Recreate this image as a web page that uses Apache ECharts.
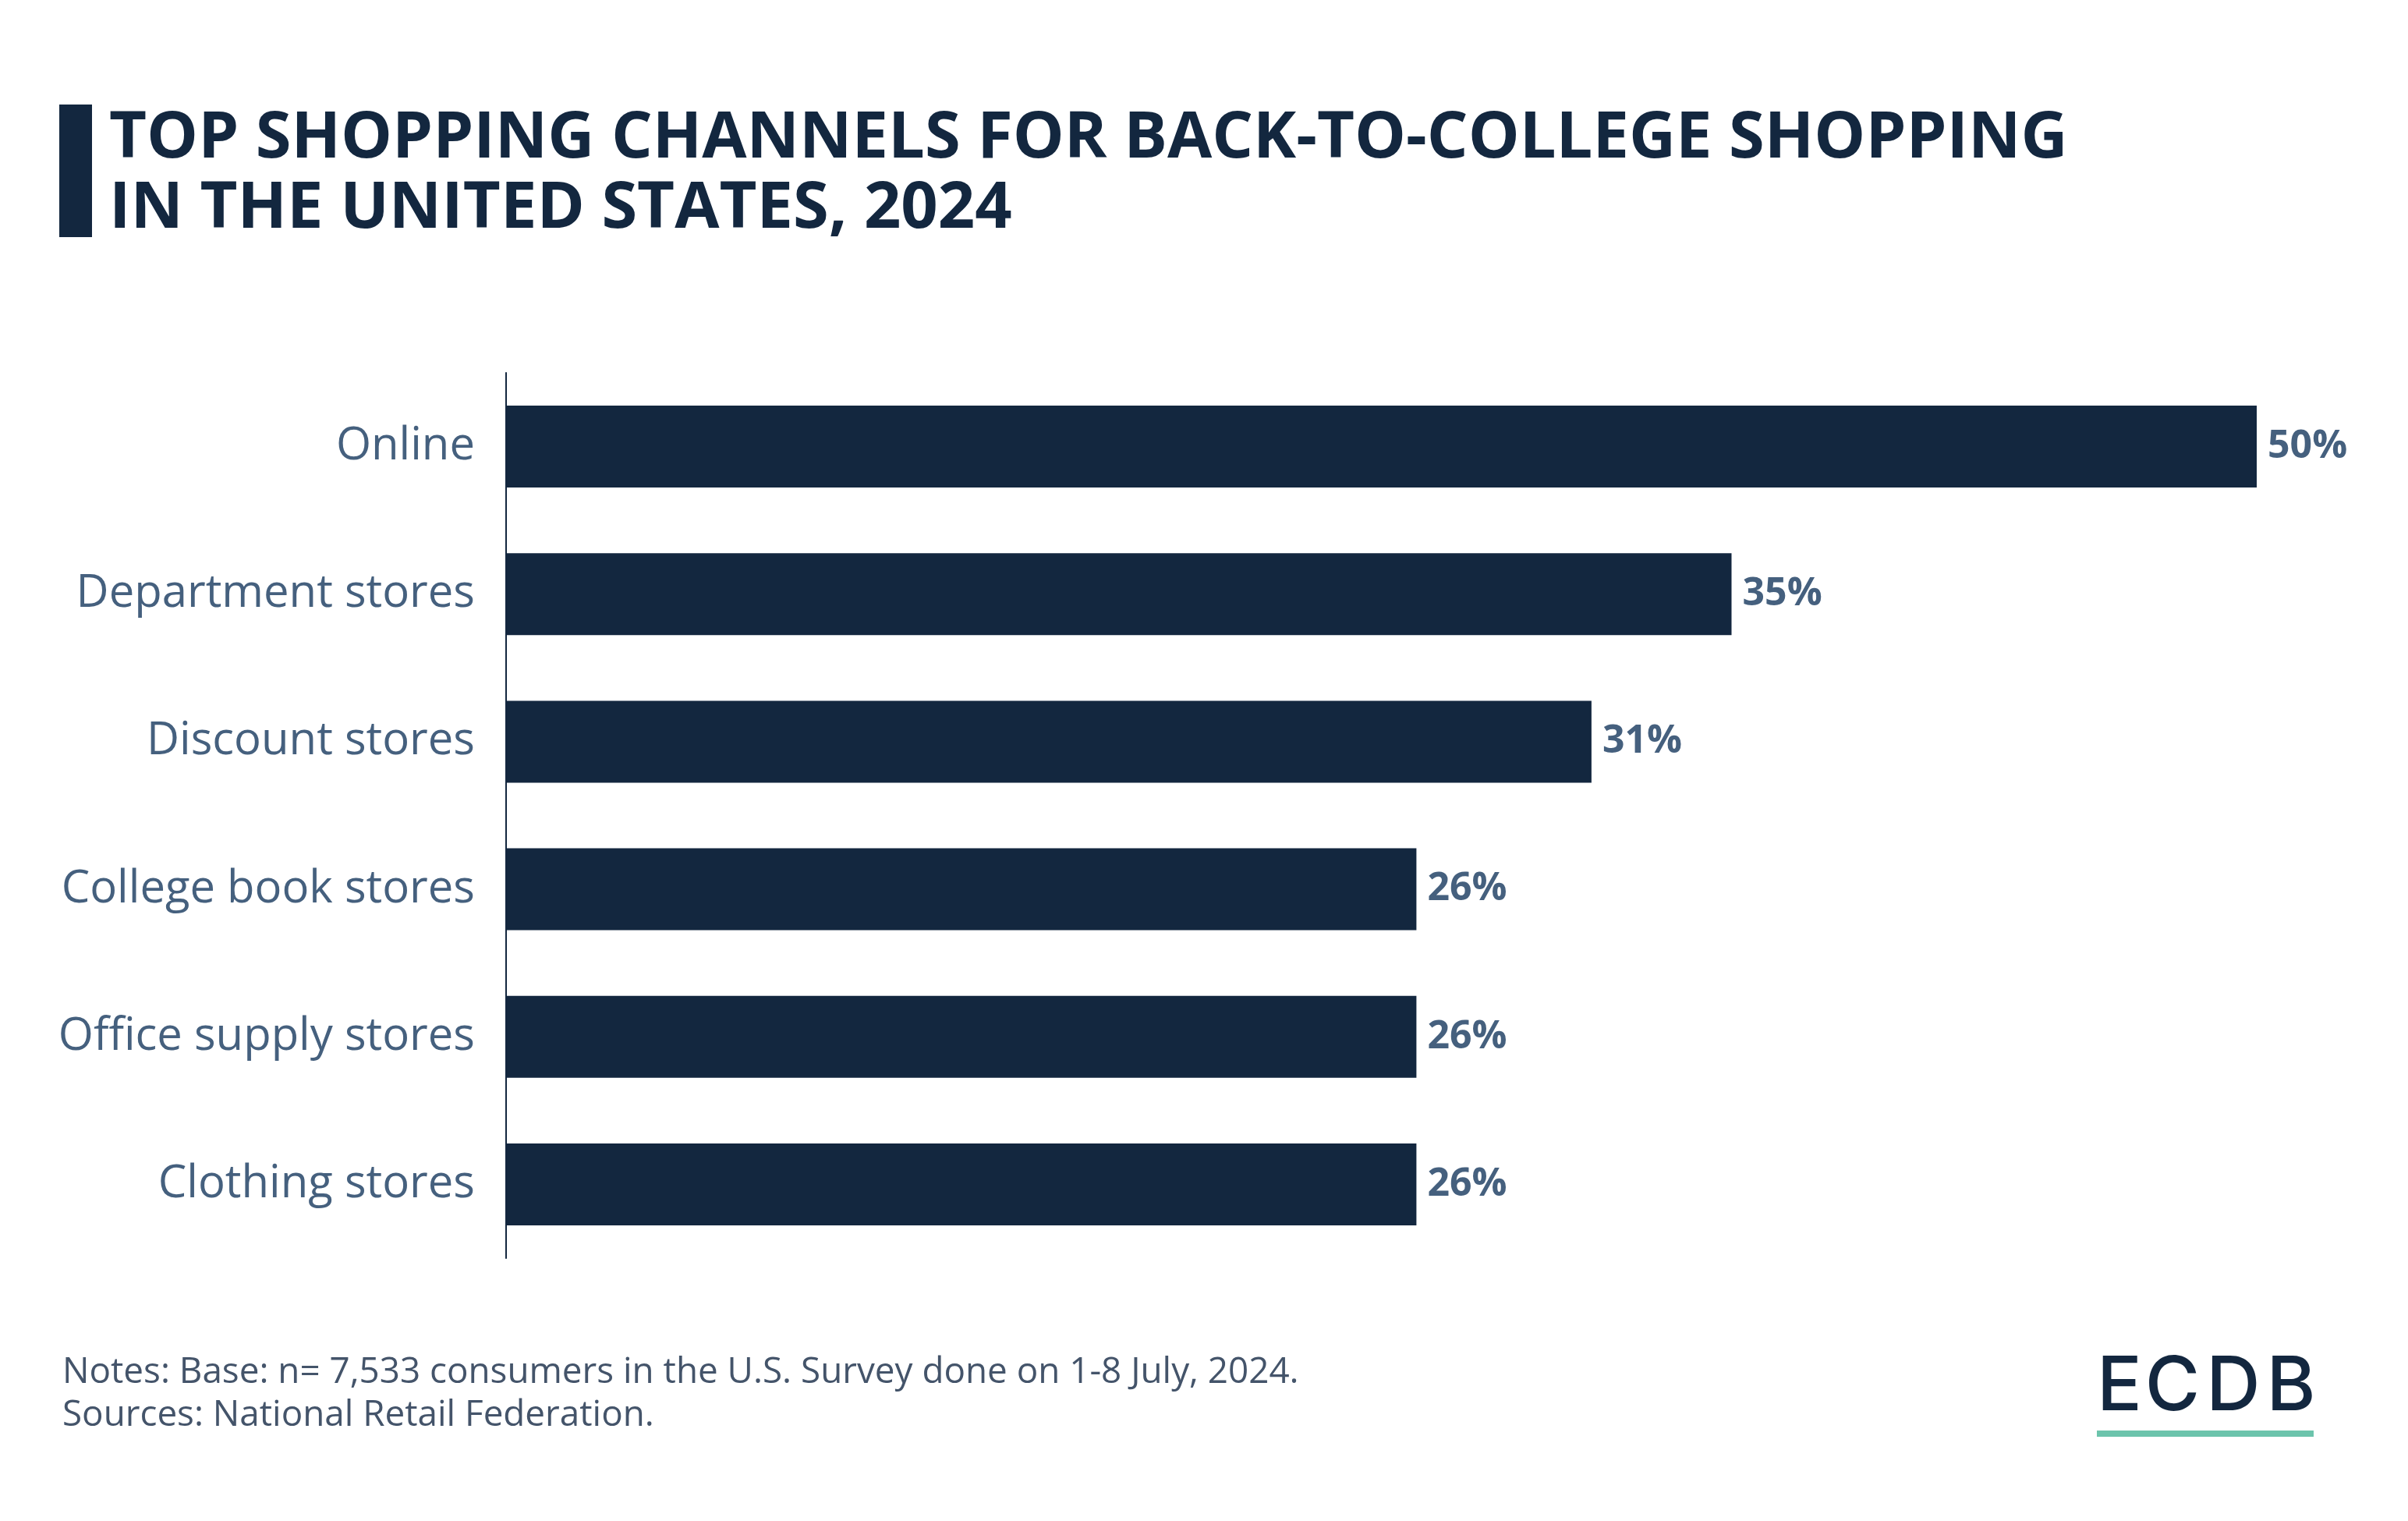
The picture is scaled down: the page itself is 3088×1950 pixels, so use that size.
<!DOCTYPE html>
<html>
<head>
<meta charset="utf-8">
<script src="https://cdn.jsdelivr.net/npm/echarts@6/dist/echarts.min.js"></script>
<style>
html,body{margin:0;padding:0;background:#fff;}
#chart{width:3088px;height:1950px;}
</style>
</head>
<body>
<div id="chart"></div>
<script>
const categories = ['Online', 'Department stores', 'Discount stores', 'College book stores', 'Office supply stores', 'Clothing stores'];
const shares = [50, 35, 31, 26, 26, 26];
const titleLines = ['TOP SHOPPING CHANNELS FOR BACK-TO-COLLEGE SHOPPING', 'IN THE UNITED STATES, 2024'];
const noteLines = ['Notes: Base: n= 7,533 consumers in the U.S. Survey done on 1-8 July, 2024.', 'Sources: National Retail Federation.'];

const navy = '#13273f';
const slate = '#45607e';

const logoLetters = [['E', 2718], ['C', 2786], ['D', 2864], ['B', 2938]];

const chart = echarts.init(document.getElementById('chart'), null, {renderer: 'canvas'});
const graphics = [
  {type: 'rect', shape: {x: 76, y: 134, width: 42, height: 170}, style: {fill: navy}},
  {type: 'text', x: 140, y: 178, style: {text: titleLines[0], fill: navy, font: 'bold 83px "Open Sans"', verticalAlign: 'middle'}},
  {type: 'text', x: 140, y: 268, style: {text: titleLines[1], fill: navy, font: 'bold 83px "Open Sans"', verticalAlign: 'middle'}},
  {type: 'text', x: 80, y: 1760, style: {text: noteLines[0], fill: '#44546a', font: '45.8px "Open Sans"', verticalAlign: 'middle'}},
  {type: 'text', x: 80, y: 1815, style: {text: noteLines[1], fill: '#44546a', font: '45.8px "Open Sans"', verticalAlign: 'middle'}},
  {type: 'rect', shape: {x: 2689, y: 1834, width: 278, height: 8}, style: {fill: '#6cc4ac'}}
];
logoLetters.forEach(function (l) {
  graphics.push({type: 'text', x: l[1], y: 1779, style: {text: l[0], fill: navy, font: '500 96px Inter', align: 'center', verticalAlign: 'middle'}});
});

chart.setOption({
  backgroundColor: '#ffffff',
  animation: false,
  grid: {left: 649, right: 194, top: 478, bottom: 337, containLabel: false},
  xAxis: {type: 'value', min: 0, max: 50, show: false},
  yAxis: {
    type: 'category',
    data: categories,
    inverse: true,
    axisLine: {show: true, lineStyle: {color: navy, width: 2}},
    axisTick: {show: false},
    axisLabel: {color: slate, fontSize: 58, fontFamily: 'Open Sans', margin: 40, padding: [14, 0, 0, 0]}
  },
  series: [{
    type: 'bar',
    data: shares,
    barCategoryGap: '44.5%',
    itemStyle: {color: navy},
    label: {
      show: true, position: 'right', distance: 14, padding: [10, 0, 0, 0],
      formatter: '{c}%', color: slate, fontSize: 50, fontWeight: 'bold', fontFamily: 'Open Sans'
    }
  }],
  graphic: graphics
});
</script>
</body>
</html>
